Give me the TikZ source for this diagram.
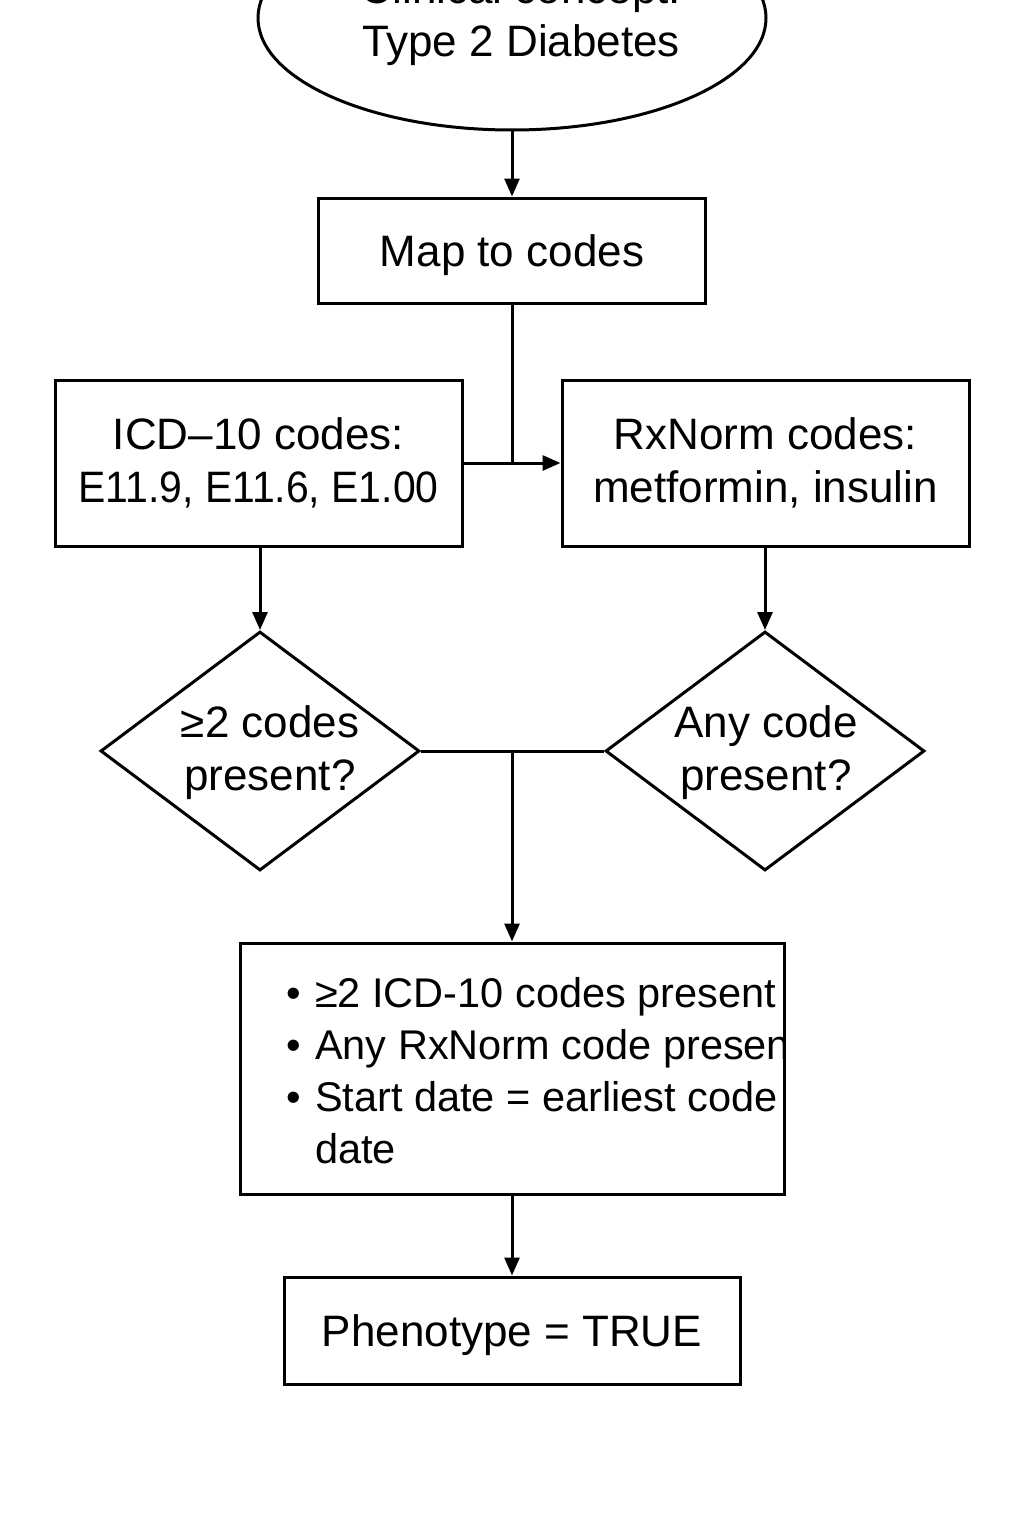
\documentclass[tikz,border=0pt]{standalone}
\usepackage{fontspec}
\usepackage{graphicx}
\setmainfont{Liberation Sans}
\usetikzlibrary{shapes.geometric,arrows.meta}

\begin{document}
\begin{tikzpicture}[x=1pt,y=-1pt,line width=3pt,
    every node/.style={font=\fontsize{44}{53}\selectfont,inner sep=0pt},
    codebox/.style={draw,rectangle,align=center},
    check/.style={draw,diamond,minimum width=319pt,minimum height=239pt},
    caption/.style={align=center},
    link/.style={-{Triangle[length=18pt,width=15pt]}}]
  \useasboundingbox (0,0) rectangle (1024,1536);
  \clip (0,0) rectangle (1024,1536);
  \node[draw,ellipse,minimum width=508pt,minimum height=224pt] (concept) at (512,18) {};
  \node[caption] (concepttext) at (521,19) {Clinical concept:\\Type 2 Diabetes};
  \node[codebox,text depth=0pt,minimum width=387pt,minimum height=105pt] (map) at (512,250.5) {Map to codes};
  \node[codebox,minimum width=407pt,minimum height=166pt] (icd) at (258.5,463) {ICD–10 codes:\\\scalebox{0.93}[1]{E11.9, E11.6, E1.00}};
  \node[codebox,minimum width=407pt,minimum height=166pt] (rxnorm) at (765.5,463) {RxNorm codes:\\metformin, insulin};
  \node[check] (icdcheck) at (260,751) {};
  \node[caption] (icdquestion) at (270,753) {≥2 codes\\present?};
  \node[check] (rxcheck) at (765,751) {};
  \node[caption] (rxquestion) at (766,753) {Any code\\present?};
  \node[codebox,minimum width=544pt,minimum height=251pt] (rules) at (512,1068.5) {};
  \begin{scope}
    \clip (rules.north west) rectangle (rules.south east);
    \node[anchor=base west,font=\fontsize{41.5}{52}\selectfont] (ruletext) at (285,1007) {\begin{tabular}[t]{@{}l@{\hspace{14pt}}l@{}}
      • & ≥2 ICD-10 codes present\\
      • & Any RxNorm code present\\
      • & Start date = earliest code\\
        & date
    \end{tabular}};
  \end{scope}
  \node[codebox,text depth=0pt,minimum width=456pt,minimum height=107pt] (result) at (512,1330.5) {Phenotype = TRUE};
  % connectors
  \draw[link] (concept.south) -- (map.north);
  \coordinate (split) at (map.south |- icd.east);
  \draw (map.south) -- (split);
  \draw[link] (icd.east) -- (rxnorm.west);
  \draw[link] (icd.south -| icdcheck.north) -- (icdcheck.north);
  \draw[link] (rxnorm.south -| rxcheck.north) -- (rxcheck.north);
  \draw (icdcheck.east) -- (rxcheck.west);
  \coordinate (merge) at (icdcheck.east -| rules.north);
  \draw[link] (merge) -- (rules.north);
  \draw[link] (rules.south) -- (result.north);
\end{tikzpicture}
\end{document}
